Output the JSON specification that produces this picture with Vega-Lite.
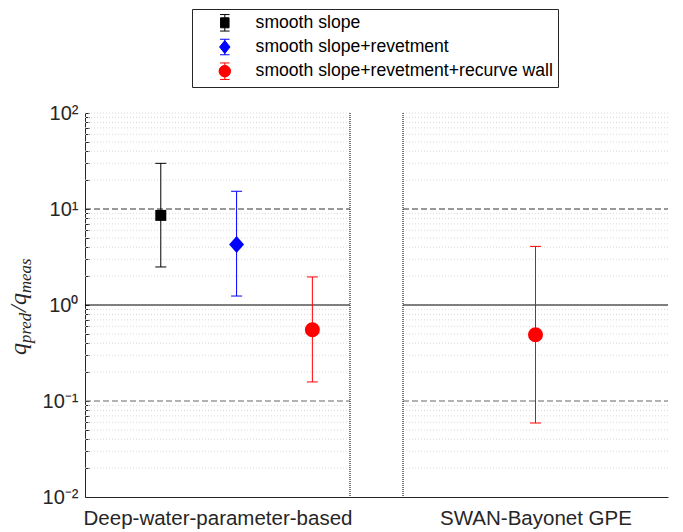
{
  "$schema": "https://vega.github.io/schema/vega-lite/v6.json",
  "width": 583,
  "height": 384,
  "autosize": {"type": "none"},
  "padding": {"left": 85, "top": 113, "right": 15, "bottom": 35},
  "background": "white",
  "config": {
    "view": {"stroke": null},
    "font": "Liberation Sans",
    "legend": {
      "orient": "none",
      "legendX": 107,
      "legendY": -104,
      "direction": "vertical",
      "padding": 5,
      "fillColor": "white",
      "strokeColor": "#262626",
      "symbolSize": 100,
      "symbolOffset": 19,
      "symbolStrokeWidth": 1,
      "labelOffset": 22,
      "rowPadding": 3.2,
      "labelFont": "Liberation Sans",
      "labelFontSize": 17.6,
      "labelColor": "#000000",
      "labelLimit": 500
    }
  },
  "datasets": {
    "results": [
      {"method": "Deep-water-parameter-based", "series": "smooth slope", "x": 1.43, "ratio": 8.58, "lo": 2.49, "hi": 29.9},
      {"method": "Deep-water-parameter-based", "series": "smooth slope+revetment", "x": 2.86, "ratio": 4.28, "lo": 1.24, "hi": 15.3},
      {"method": "Deep-water-parameter-based", "series": "smooth slope+revetment+recurve wall", "x": 4.29, "ratio": 0.553, "lo": 0.158, "hi": 1.96},
      {"method": "SWAN-Bayonet GPE", "series": "smooth slope+revetment+recurve wall", "x": 8.5, "ratio": 0.49, "lo": 0.059, "hi": 4.08}
    ],
    "minorGrid": [
      {"v": 0.02}, {"v": 0.03}, {"v": 0.04}, {"v": 0.05}, {"v": 0.06}, {"v": 0.07}, {"v": 0.08}, {"v": 0.09},
      {"v": 0.2}, {"v": 0.3}, {"v": 0.4}, {"v": 0.5}, {"v": 0.6}, {"v": 0.7}, {"v": 0.8}, {"v": 0.9},
      {"v": 2}, {"v": 3}, {"v": 4}, {"v": 5}, {"v": 6}, {"v": 7}, {"v": 8}, {"v": 9},
      {"v": 20}, {"v": 30}, {"v": 40}, {"v": 50}, {"v": 60}, {"v": 70}, {"v": 80}, {"v": 90},
      {"v": 100}
    ],
    "upperBand": [{"v": 10}],
    "lowerBand": [{"v": 0.1}],
    "parity": [{"v": 1}],
    "panelEdges": [{"edge": 5}, {"edge": 6}],
    "titleAnchor": [{"v": 1}]
  },
  "layer": [
    {
      "data": {"name": "minorGrid"},
      "mark": {"type": "rule", "color": "#d9d9d9", "strokeWidth": 1, "strokeDash": [1, 2]},
      "encoding": {
        "x": {
          "datum": 0,
          "type": "quantitative",
          "scale": {"domain": [0, 11], "nice": false, "zero": false},
          "title": null,
          "axis": {
            "values": [2.5, 8.5],
            "labelExpr": "datum.value < 5 ? 'Deep-water-parameter-based' : 'SWAN-Bayonet GPE'",
            "ticks": false,
            "grid": false,
            "domainColor": "#262626",
            "domainWidth": 1,
            "labelFont": "Liberation Sans",
            "labelFontSize": 20.5,
            "labelColor": "#262626",
            "labelPadding": 11,
            "labelLimit": 500,
            "labelFlush": false,
            "labelBound": false,
            "labelOverlap": false
          }
        },
        "x2": {"datum": 5},
        "y": {
          "field": "v",
          "type": "quantitative",
          "scale": {"type": "log", "domain": [0.01, 100], "nice": false},
          "title": null,
          "axis": {
            "values": [0.01, 0.02, 0.03, 0.04, 0.05, 0.06, 0.07, 0.08, 0.09, 0.1, 0.2, 0.3, 0.4, 0.5, 0.6, 0.7, 0.8, 0.9, 1, 2, 3, 4, 5, 6, 7, 8, 9, 10, 20, 30, 40, 50, 60, 70, 80, 90, 100],
            "labelExpr": "datum.value == 100 ? '10²' : datum.value == 10 ? '10¹' : datum.value == 1 ? '10⁰' : datum.value == 0.1 ? '10⁻¹' : datum.value == 0.01 ? '10⁻²' : ''",
            "grid": false,
            "tickSize": -4,
            "tickColor": "#262626",
            "domainColor": "#262626",
            "domainWidth": 1,
            "labelFont": "Liberation Sans",
            "labelFontSize": 20,
            "labelColor": "#262626",
            "labelPadding": 11,
            "labelOverlap": false,
            "labelFlush": false,
            "labelBound": false
          }
        }
      }
    },
    {
      "data": {"name": "minorGrid"},
      "mark": {"type": "rule", "color": "#d9d9d9", "strokeWidth": 1, "strokeDash": [1, 2]},
      "encoding": {
        "x": {"datum": 6, "type": "quantitative", "title": null},
        "x2": {"datum": 11},
        "y": {"field": "v", "type": "quantitative", "title": null}
      }
    },
    {
      "data": {"name": "upperBand"},
      "mark": {"type": "rule", "color": "#333333", "strokeWidth": 1, "strokeDash": [6, 3]},
      "encoding": {
        "x": {"datum": 0, "type": "quantitative", "title": null},
        "x2": {"datum": 5},
        "y": {"field": "v", "type": "quantitative", "title": null}
      }
    },
    {
      "data": {"name": "upperBand"},
      "mark": {"type": "rule", "color": "#333333", "strokeWidth": 1, "strokeDash": [6, 3]},
      "encoding": {
        "x": {"datum": 6, "type": "quantitative", "title": null},
        "x2": {"datum": 11},
        "y": {"field": "v", "type": "quantitative", "title": null}
      }
    },
    {
      "data": {"name": "lowerBand"},
      "mark": {"type": "rule", "color": "#666666", "strokeWidth": 1, "strokeDash": [6, 3]},
      "encoding": {
        "x": {"datum": 0, "type": "quantitative", "title": null},
        "x2": {"datum": 5},
        "y": {"field": "v", "type": "quantitative", "title": null}
      }
    },
    {
      "data": {"name": "lowerBand"},
      "mark": {"type": "rule", "color": "#666666", "strokeWidth": 1, "strokeDash": [6, 3]},
      "encoding": {
        "x": {"datum": 6, "type": "quantitative", "title": null},
        "x2": {"datum": 11},
        "y": {"field": "v", "type": "quantitative", "title": null}
      }
    },
    {
      "data": {"name": "parity"},
      "mark": {"type": "rule", "color": "#000000", "strokeWidth": 1.2},
      "encoding": {
        "x": {"datum": 0, "type": "quantitative", "title": null},
        "x2": {"datum": 5},
        "y": {"field": "v", "type": "quantitative", "title": null}
      }
    },
    {
      "data": {"name": "parity"},
      "mark": {"type": "rule", "color": "#000000", "strokeWidth": 1.2},
      "encoding": {
        "x": {"datum": 6, "type": "quantitative", "title": null},
        "x2": {"datum": 11},
        "y": {"field": "v", "type": "quantitative", "title": null}
      }
    },
    {
      "data": {"name": "panelEdges"},
      "mark": {"type": "rule", "color": "#333333", "strokeWidth": 1.3, "strokeDash": [1, 1]},
      "encoding": {
        "x": {"field": "edge", "type": "quantitative", "title": null}
      }
    },
    {
      "data": {"name": "results"},
      "mark": {"type": "point", "filled": true, "opacity": 1, "strokeWidth": 0},
      "encoding": {
        "x": {"field": "x", "type": "quantitative", "title": null},
        "y": {"field": "ratio", "type": "quantitative", "title": null},
        "color": {
          "field": "series",
          "type": "nominal",
          "scale": {
            "domain": ["smooth slope", "smooth slope+revetment", "smooth slope+revetment+recurve wall"],
            "range": ["#000000", "#0000ff", "#ff0000"]
          },
          "legend": {
            "title": null,
            "encoding": {
              "symbols": {
                "shape": {"value": {"expr": "datum.value === 'smooth slope' ? 'M-0.85,-1H0.85V1H-0.85Z M0,-1.65V1.65 M-0.95,-1.65H0.95 M-0.95,1.65H0.95' : datum.value === 'smooth slope+revetment' ? 'M0,-1.3L1.05,0L0,1.3L-1.05,0Z M0,-1.55V1.55 M-0.95,-1.55H0.95 M-0.95,1.55H0.95' : 'M-1.15,0A1.15,1.15 0 1,0 1.15,0A1.15,1.15 0 1,0 -1.15,0Z M0,-1.65V1.65 M-0.95,-1.65H0.95 M-0.95,1.65H0.95'"}},
                "size": {"value": 100},
                "fill": {"value": {"expr": "scale('color', datum.value)"}},
                "stroke": {"value": {"expr": "scale('color', datum.value)"}},
                "strokeWidth": {"value": 1},
                "opacity": {"value": 1}
              }
            }
          }
        },
        "opacity": {"value": 0}
      }
    },
    {
      "data": {"name": "results"},
      "mark": {"type": "rule", "strokeWidth": 1},
      "encoding": {
        "x": {"field": "x", "type": "quantitative", "title": null},
        "y": {"field": "lo", "type": "quantitative", "title": null},
        "y2": {"field": "hi"},
        "color": {"field": "series", "type": "nominal"}
      }
    },
    {
      "data": {"name": "results"},
      "mark": {"type": "tick", "orient": "horizontal", "size": 11, "thickness": 1, "opacity": 1},
      "encoding": {
        "x": {"field": "x", "type": "quantitative", "title": null},
        "y": {"field": "lo", "type": "quantitative", "title": null},
        "color": {"field": "series", "type": "nominal"}
      }
    },
    {
      "data": {"name": "results"},
      "mark": {"type": "tick", "orient": "horizontal", "size": 11, "thickness": 1, "opacity": 1},
      "encoding": {
        "x": {"field": "x", "type": "quantitative", "title": null},
        "y": {"field": "hi", "type": "quantitative", "title": null},
        "color": {"field": "series", "type": "nominal"}
      }
    },
    {
      "data": {"name": "results"},
      "transform": [{"filter": "datum.series === 'smooth slope'"}],
      "mark": {"type": "point", "shape": "square", "size": 121, "filled": true, "opacity": 1, "strokeWidth": 0},
      "encoding": {
        "x": {"field": "x", "type": "quantitative", "title": null},
        "y": {"field": "ratio", "type": "quantitative", "title": null},
        "color": {"field": "series", "type": "nominal"}
      }
    },
    {
      "data": {"name": "results"},
      "transform": [{"filter": "datum.series === 'smooth slope+revetment'"}],
      "mark": {"type": "point", "shape": "M0,-1L0.88,0L0,1L-0.88,0Z", "size": 289, "filled": true, "opacity": 1, "strokeWidth": 0},
      "encoding": {
        "x": {"field": "x", "type": "quantitative", "title": null},
        "y": {"field": "ratio", "type": "quantitative", "title": null},
        "color": {"field": "series", "type": "nominal"}
      }
    },
    {
      "data": {"name": "results"},
      "transform": [{"filter": "datum.series === 'smooth slope+revetment+recurve wall'"}],
      "mark": {"type": "point", "shape": "circle", "size": 225, "filled": true, "opacity": 1, "strokeWidth": 0},
      "encoding": {
        "x": {"field": "x", "type": "quantitative", "title": null},
        "y": {"field": "ratio", "type": "quantitative", "title": null},
        "color": {"field": "series", "type": "nominal"}
      }
    },
    {
      "data": {"name": "titleAnchor"},
      "mark": {"type": "text", "text": "q", "angle": 270, "align": "left", "baseline": "alphabetic", "dx": -50, "dy": -59, "font": "Liberation Serif", "fontStyle": "italic", "fontSize": 24, "color": "#262626"},
      "encoding": {
        "x": {"datum": 0, "type": "quantitative", "title": null},
        "y": {"field": "v", "type": "quantitative", "title": null}
      }
    },
    {
      "data": {"name": "titleAnchor"},
      "mark": {"type": "text", "text": "pred", "angle": 270, "align": "left", "baseline": "alphabetic", "dx": -38, "dy": -54, "font": "Liberation Serif", "fontStyle": "italic", "fontSize": 16.8, "color": "#262626"},
      "encoding": {
        "x": {"datum": 0, "type": "quantitative", "title": null},
        "y": {"field": "v", "type": "quantitative", "title": null}
      }
    },
    {
      "data": {"name": "titleAnchor"},
      "mark": {"type": "text", "text": "/", "angle": 270, "align": "left", "baseline": "alphabetic", "dx": -7, "dy": -59, "font": "Liberation Serif", "fontStyle": "italic", "fontSize": 24, "color": "#262626"},
      "encoding": {
        "x": {"datum": 0, "type": "quantitative", "title": null},
        "y": {"field": "v", "type": "quantitative", "title": null}
      }
    },
    {
      "data": {"name": "titleAnchor"},
      "mark": {"type": "text", "text": "q", "angle": 270, "align": "left", "baseline": "alphabetic", "dx": 0, "dy": -59, "font": "Liberation Serif", "fontStyle": "italic", "fontSize": 24, "color": "#262626"},
      "encoding": {
        "x": {"datum": 0, "type": "quantitative", "title": null},
        "y": {"field": "v", "type": "quantitative", "title": null}
      }
    },
    {
      "data": {"name": "titleAnchor"},
      "mark": {"type": "text", "text": "meas", "angle": 270, "align": "left", "baseline": "alphabetic", "dx": 12, "dy": -54, "font": "Liberation Serif", "fontStyle": "italic", "fontSize": 16.8, "color": "#262626"},
      "encoding": {
        "x": {"datum": 0, "type": "quantitative", "title": null},
        "y": {"field": "v", "type": "quantitative", "title": null}
      }
    }
  ]
}
